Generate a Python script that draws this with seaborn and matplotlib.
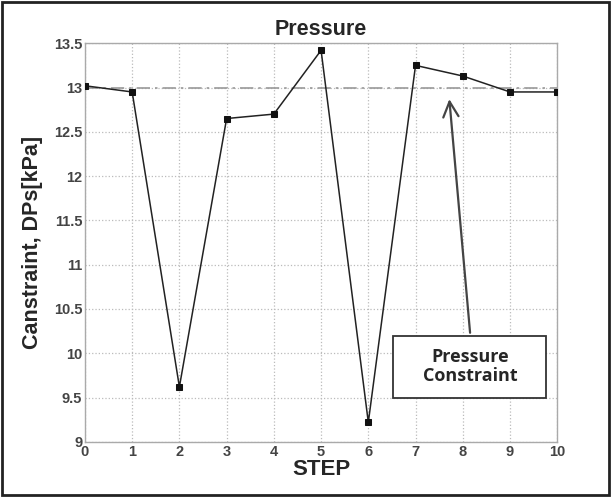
import pandas as pd
import matplotlib
matplotlib.use("Agg")
import matplotlib.pyplot as plt
import seaborn as sns
from matplotlib.patches import Rectangle

# values
steps = [0, 1, 2, 3, 4, 5, 6, 7, 8, 9, 10]
pressure = [13.02, 12.95, 9.62, 12.65, 12.70, 13.42, 9.22, 13.25, 13.13, 12.95, 12.95]
constraint = 13.0
x_ticks = [0, 1, 2, 3, 4, 5, 6, 7, 8, 9, 10]
y_ticks = [9, 9.5, 10, 10.5, 11, 11.5, 12, 12.5, 13, 13.5]
y_tick_labels = ["9", "9.5", "10", "10.5", "11", "11.5", "12", "12.5", "13", "13.5"]

df = pd.DataFrame({"STEP": steps, "Pressure": pressure})

sns.set_style("white")
plt.rcParams['font.family'] = ['Liberation Sans', 'DejaVu Sans']

fig = plt.figure(figsize=(6.11, 4.97), dpi=100)
ax = fig.add_axes([0.139, 0.111, 0.773, 0.802])

ax.axhline(constraint, color="#999999", lw=1.2, ls=(0, (8, 3, 1.5, 3)), zorder=1)
sns.lineplot(data=df, x="STEP", y="Pressure", ax=ax, color="#222222", lw=1.1,
             marker="s", markersize=5, markeredgecolor="#111111",
             markerfacecolor="#111111", zorder=3)

ax.set_xlim(0, 10)
ax.set_ylim(9, 13.5)
ax.set_xticks(x_ticks)
ax.set_yticks(y_ticks)
ax.set_yticklabels(y_tick_labels)
ax.grid(True, color="#bbbbbb", ls=":", lw=0.9)
for s in ax.spines.values():
    s.set_color("#aaaaaa")
    s.set_linewidth(1.0)
ax.tick_params(axis="both", labelsize=10.5, colors="#333333", length=0, pad=2)
for lab in ax.get_xticklabels() + ax.get_yticklabels():
    lab.set_fontweight("bold")
    lab.set_color("#444444")

ax.set_title("Pressure", fontsize=15.5, fontweight="bold", pad=6)
ax.set_xlabel("STEP", fontsize=16, fontweight="bold", labelpad=0)
ax.set_ylabel("Canstraint, DPs[kPa]", fontsize=15.5, fontweight="bold", labelpad=8)

# annotation box and arrow
ax.add_patch(Rectangle((6.53, 9.5), 3.24, 0.7, facecolor="white",
                       edgecolor="#333333", lw=1.3, zorder=4))
ax.text(8.15, 9.85, "Pressure\nConstraint", ha="center", va="center",
        fontsize=13, fontweight="bold", family=["Open Sans", "DejaVu Sans"],
        linespacing=1.1, zorder=5)
ax.annotate("", xy=(7.71, 12.9), xytext=(8.16, 10.2),
            arrowprops=dict(arrowstyle="->,head_length=1.1,head_width=0.55",
                            color="#444444", lw=1.6), zorder=4)

# outer frame
fig.patches.append(Rectangle((0.003, 0.004), 0.994, 0.992, transform=fig.transFigure,
                             fill=False, edgecolor="#222222", lw=2))

fig.savefig("out.png", dpi=100)
